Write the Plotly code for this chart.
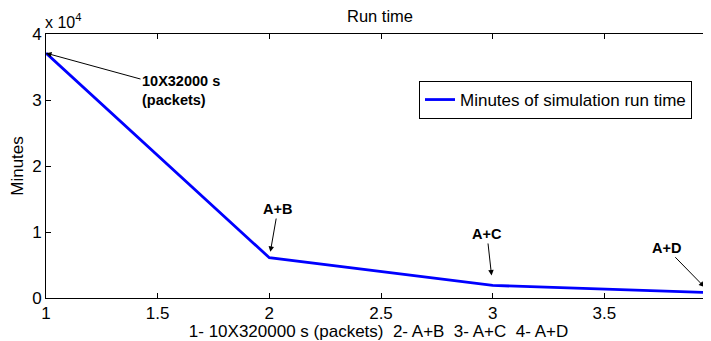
import plotly.graph_objects as go

# Data
configs = [1, 2, 3, 4]
minutes = [37100, 6100, 1900, 800]
series_name = "Minutes of simulation run time"
x_ticks = [1, 1.5, 2, 2.5, 3, 3.5, 4]
y_tickvals = [0, 10000, 20000, 30000, 40000]
y_ticktext = ["0", "1", "2", "3", "4"]
point_labels = ["<b>10X32000 s<br>(packets)</b>", "<b>A+B</b>", "<b>A+C</b>", "<b>A+D</b>"]

FONT = "Liberation Sans, Arial, Helvetica, sans-serif"
OFF = 8                      # default page body margin
W, H = 711 - OFF, 341 - OFF  # paper size so it ends at the window edge
# plot area in window pixels: left 46, top 34, bottom 298, x=4 at 716
ML, MT = 46 - OFF, 34 - OFF
MB = H - (298 - OFF)
MR = 0
PH = H - MT - MB
x_lo = 1
x_hi = 1 + (W - ML) / ((716 - 46) / 3)

fig = go.Figure()
fig.add_trace(go.Scatter(
    x=configs, y=minutes, mode="lines", name=series_name,
    line=dict(color="#0000ff", width=2.8),
))

# annotation offsets (px) and standoffs
offsets = [(135, 37, 0), (8.5, -48.7, 6), (-5.7, -51.5, 10), (-50, -45, 8)]
annotations = []
for i, (xv, yv) in enumerate(zip(configs, minutes)):
    ax_, ay_, so = offsets[i]
    ann = dict(
        text=point_labels[i], y=yv, yref="y",
        showarrow=True, arrowhead=2, arrowsize=1.1, arrowwidth=1,
        arrowcolor="black", ax=ax_, ay=ay_, standoff=so,
        font=dict(family=FONT, size=14.5, color="black"), align="left",
    )
    if xv > x_hi:
        ann.update(x=(xv - x_lo) / (x_hi - x_lo), xref="paper")
    else:
        ann.update(x=xv, xref="x")
    annotations.append(ann)

annotations.append(dict(
    text="x 10<sup>4</sup>", x=0, xref="paper", xanchor="left", xshift=-3,
    y=(298 - 33.5) / PH, yref="paper", yanchor="bottom",
    showarrow=False, font=dict(family=FONT, size=16, color="black"),
))

fig.update_layout(
    width=W, height=H,
    margin=dict(l=ML, r=MR, t=MT, b=MB, pad=0, autoexpand=False),
    paper_bgcolor="white", plot_bgcolor="white",
    font=dict(family=FONT, size=17, color="black"),
    title=dict(text="Run time", x=(380 - OFF) / W, xanchor="center",
               y=1 - (16.5 - OFF) / H, yanchor="middle", yref="container",
               font=dict(family=FONT, size=16.5, color="black")),
    showlegend=True,
    legend=dict(
        x=(692 - 46) / (W - ML), xanchor="right",
        y=(298 - 100) / PH, yanchor="middle",
        bgcolor="white", bordercolor="black", borderwidth=1,
        font=dict(family=FONT, size=17, color="black"),
        itemwidth=30, tracegroupgap=0,
    ),
    annotations=annotations,
)

fig.update_xaxes(
    range=[x_lo, x_hi], tickvals=x_ticks,
    ticktext=[("%g" % v) for v in x_ticks],
    showgrid=False, zeroline=False,
    showline=True, linecolor="black", linewidth=1, mirror="ticks",
    ticks="inside", ticklen=5, tickcolor="black", tickwidth=1,
    tickfont=dict(family=FONT, size=17, color="black"),
    title=dict(text="1- 10X320000 s (packets)\u00a0\u00a02- A+B\u00a0\u00a03- A+C\u00a0\u00a04- A+D",
               font=dict(family=FONT, size=17, color="black"), standoff=0),
)
fig.update_yaxes(
    range=[0, 40000], tickvals=y_tickvals, ticktext=y_ticktext,
    showgrid=False, zeroline=False,
    showline=True, linecolor="black", linewidth=1, mirror="ticks",
    ticks="inside", ticklen=5, tickcolor="black", tickwidth=1,
    tickfont=dict(family=FONT, size=17, color="black"),
    title=dict(text="Minutes", font=dict(family=FONT, size=17, color="black"), standoff=6),
)

fig.write_html("out.html")
